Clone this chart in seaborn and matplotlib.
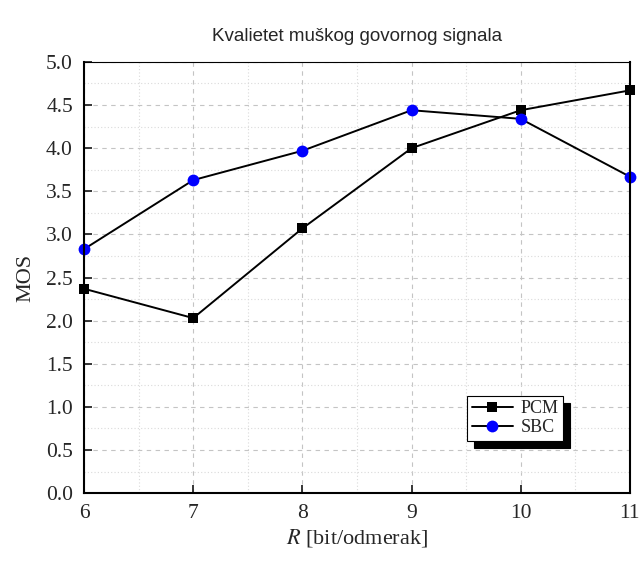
import matplotlib
matplotlib.use("Agg")
import matplotlib.pyplot as plt
import seaborn as sns
import pandas as pd
from matplotlib.ticker import MultipleLocator

# Data
r_bits = [6, 7, 8, 9, 10, 11]
pcm_mos = [2.37, 2.03, 3.07, 4.00, 4.44, 4.67]
sbc_mos = [2.83, 3.63, 3.97, 4.44, 4.34, 3.67]

df = pd.DataFrame({
    'R': r_bits * 2,
    'MOS': pcm_mos + sbc_mos,
    'Kodek': ['PCM'] * len(r_bits) + ['SBC'] * len(r_bits),
})

sns.set_style('ticks')
plt.rcParams['font.family'] = ['Liberation Serif', 'DejaVu Serif']
plt.rcParams['mathtext.fontset'] = 'stix'

fig = plt.figure(figsize=(6.42, 5.63), dpi=100)
ax = fig.add_axes([0.131, 0.124, 0.850, 0.766])

sns.lineplot(data=df, x='R', y='MOS', hue='Kodek', style='Kodek',
             palette={'PCM': 'black', 'SBC': 'blue'},
             markers={'PCM': 's', 'SBC': 'o'}, dashes=False,
             markersize=8, markeredgewidth=0, linewidth=1.4, ax=ax, legend=False)
# lines black for both series, markers keep their own colour
for ln, col, ms in zip(ax.get_lines(), ['black', 'blue'], [7.5, 8.5]):
    ln.set_color('black')
    ln.set_markerfacecolor(col)
    ln.set_markeredgecolor(col)
    ln.set_markersize(ms)
    ln.set_clip_on(False)

ax.set_xlim(6, 11)
ax.set_ylim(0, 5)
ax.xaxis.set_major_locator(MultipleLocator(1))
ax.xaxis.set_minor_locator(MultipleLocator(0.5))
ax.yaxis.set_major_locator(MultipleLocator(0.5))
ax.yaxis.set_minor_locator(MultipleLocator(0.25))
ax.set_yticklabels([f'{v:.1f}' for v in ax.get_yticks()])
ax.grid(which='major', color='#c4c4c4', linestyle=(0, (4, 4)), linewidth=0.8)
ax.grid(which='minor', color='#dadada', linestyle=(0, (1, 2)), linewidth=0.8)
ax.tick_params(which='major', direction='in', length=6, width=1.3, labelsize=15.5,
               pad=8, top=False, right=False)
ax.tick_params(which='minor', length=0, top=False, right=False)
for s in ax.spines.values():
    s.set_visible(True)
    s.set_color('black')
ax.spines['left'].set_linewidth(1.5)
ax.spines['bottom'].set_linewidth(1.5)
ax.spines['top'].set_linewidth(0.8)
ax.spines['right'].set_linewidth(1.5)

ax.set_xlabel('$R$ [bit/odmerak]', fontsize=16, labelpad=3)
ax.set_ylabel('MOS', fontsize=16, labelpad=8)
ax.set_title('Kvalietet muškog govornog signala', fontsize=13.5,
             family=['Liberation Sans', 'DejaVu Sans'], pad=15)

handles = [
    plt.Line2D([], [], color='black', marker='s', markersize=7.5, markerfacecolor='black',
               markeredgewidth=0, linewidth=1.4),
    plt.Line2D([], [], color='black', marker='o', markersize=8.5, markerfacecolor='blue',
               markeredgewidth=0, linewidth=1.4),
]
leg = ax.legend(handles, ['PCM', 'SBC'], loc='lower left', bbox_to_anchor=(0.702, 0.122),
                fontsize=13, frameon=True, fancybox=False, edgecolor='black',
                shadow={'color': 'black', 'alpha': 1, 'ox': 5, 'oy': -5},
                handlelength=2.3, borderpad=0.25, labelspacing=0.1, handletextpad=0.4,
                borderaxespad=0)
leg.get_frame().set_linewidth(0.8)

fig.savefig('out.png', dpi=100)
